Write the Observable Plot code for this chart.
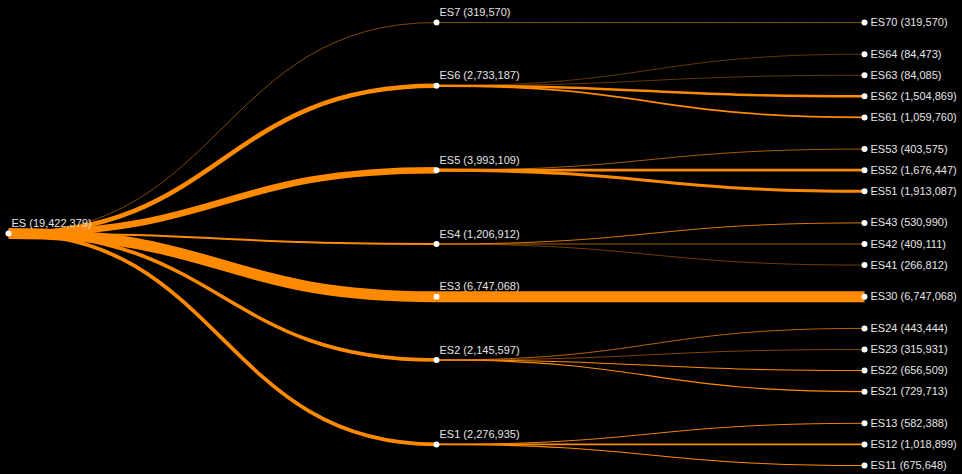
<!DOCTYPE html>
<html>
<head>
<meta charset="utf-8">
<script src="https://cdn.jsdelivr.net/npm/d3@7"></script>
<script src="https://cdn.jsdelivr.net/npm/@observablehq/plot@0.6"></script>
<style>
  html, body { margin: 0; padding: 0; background: #000; }
  #chart { width: 962px; height: 474px; }
</style>
</head>
<body>
<div id="chart"></div>
<script>
// Node paths (tree order, top to bottom) and population values
const paths = [
  "ES",
  "ES/ES7", "ES/ES7/ES70",
  "ES/ES6", "ES/ES6/ES64", "ES/ES6/ES63", "ES/ES6/ES62", "ES/ES6/ES61",
  "ES/ES5", "ES/ES5/ES53", "ES/ES5/ES52", "ES/ES5/ES51",
  "ES/ES4", "ES/ES4/ES43", "ES/ES4/ES42", "ES/ES4/ES41",
  "ES/ES3", "ES/ES3/ES30",
  "ES/ES2", "ES/ES2/ES24", "ES/ES2/ES23", "ES/ES2/ES22", "ES/ES2/ES21",
  "ES/ES1", "ES/ES1/ES13", "ES/ES1/ES12", "ES/ES1/ES11"
];
const values = [
  19422379,
  319570, 319570,
  2733187, 84473, 84085, 1504869, 1059760,
  3993109, 403575, 1676447, 1913087,
  1206912, 530990, 409111, 266812,
  6747068, 6747068,
  2145597, 443444, 315931, 656509, 729713,
  2276935, 582388, 1018899, 675648
];

const fmt = d3.format(",");
const table = paths.map((p, i) => ({
  id: p,
  parentId: p.includes("/") ? p.slice(0, p.lastIndexOf("/")) : null,
  value: values[i],
  label: `${p.split("/").pop()} (${fmt(values[i])})`
}));

const root = d3.stratify().id((d) => d.id).parentId((d) => d.parentId)(table);
d3.tree()
  .nodeSize([1, 1])
  .separation((a, b) => (a.parent === b.parent ? 1 : 1.5))(root);

const nodes = root.descendants();
const links = root.links();

const chart = Plot.plot({
  width: 962,
  height: 474,
  marginLeft: 8,
  marginRight: 98,
  marginTop: 22,
  marginBottom: 9,
  style: {background: "#000", fontFamily: "'Liberation Sans', Arial, sans-serif"},
  x: {axis: null},
  y: {axis: null, reverse: true},
  marks: [
    Plot.link(links, {
      x1: (l) => l.source.y,
      y1: (l) => l.source.x,
      x2: (l) => l.target.y,
      y2: (l) => l.target.x,
      curve: "bump-x",
      stroke: "#ff8a00",
      strokeWidth: (l) => Math.max(0.4, l.target.data.value * 1.63e-6)
    }),
    Plot.dot(nodes, {x: "y", y: "x", fill: "#fff", r: 3}),
    Plot.text(nodes.filter((n) => !n.children), {
      x: "y", y: "x",
      text: (n) => n.data.label,
      textAnchor: "start",
      dx: 6,
      fill: "#e4e4e4",
      fontSize: 11
    }),
    Plot.text(nodes.filter((n) => n.children), {
      x: "y", y: "x",
      text: (n) => n.data.label,
      textAnchor: "start",
      dx: 3,
      dy: -10,
      fill: "#e4e4e4",
      fontSize: 11
    })
  ]
});
document.getElementById("chart").appendChild(chart);
</script>
</body>
</html>
